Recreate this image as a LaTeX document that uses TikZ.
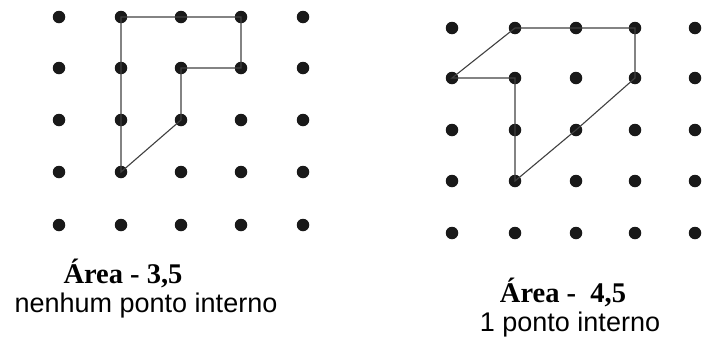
\documentclass[tikz,border=0pt]{standalone}
\usepackage{fontspec}
\setmainfont{Liberation Serif}
\newfontfamily\arialfont{Liberation Sans}
\begin{document}
\begin{tikzpicture}[x=1pt,y=-1pt,
  dot/.style={circle,fill=black!90,inner sep=0pt,minimum width=11.5pt,minimum height=12.5pt},
  edge/.style={draw=black!75,line width=1.1pt},
  title/.style={anchor=base,font=\fontsize{28.5}{32}\selectfont\bfseries},
  sub/.style={anchor=base,font=\fontsize{27}{32}\selectfont\arialfont}]
\useasboundingbox (0,0) rectangle (703,338);
% left grid
\foreach \i/\x in {0/59,1/121,2/181,3/241,4/303}
  \foreach \j/\y in {0/17,1/68,2/120,3/172,4/225}
    \node[dot] (L-\i-\j) at (\x,\y) {};
% right grid
\foreach \i/\x in {0/452,1/515,2/576,3/635,4/695}
  \foreach \j/\y in {0/28,1/78,2/130,3/181,4/233}
    \node[dot] (R-\i-\j) at (\x,\y) {};
% left polygon
\draw[edge] (L-1-0.center) -- (L-2-0.center) -- (L-3-0.center) -- (L-3-1.center)
  -- (L-2-1.center) -- (L-2-2.center) -- (L-1-3.center) -- (L-1-2.center)
  -- (L-1-1.center) -- cycle;
% right polygon
\draw[edge] (R-1-0.center) -- (R-2-0.center) -- (R-3-0.center) -- (R-3-1.center)
  -- (R-2-2.center) -- (R-1-3.center) -- (R-1-2.center) -- (R-1-1.center)
  -- (R-0-1.center) -- cycle;
% labels
\node[title] (t1) at (123,283) {Área - 3,5};
\node[sub] (s1) at (146,312) {nenhum ponto interno};
\node[title] (t2) at (563,302) {Área -\ \ 4,5};
\node[sub] (s2) at (570,331) {1 ponto interno};
\end{tikzpicture}
\end{document}
